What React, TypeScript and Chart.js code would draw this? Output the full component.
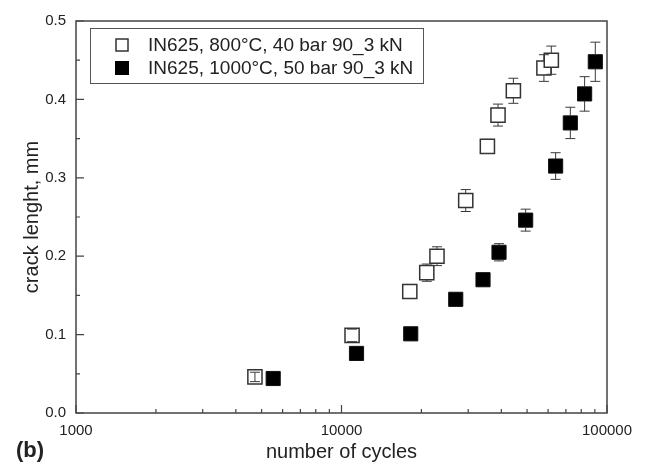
import React, { useEffect, useRef } from "react";
import { Chart, registerables } from "chart.js";
Chart.register(...registerables);

const seriesLabels = ["IN625, 800°C, 40 bar 90_3 kN", "IN625, 1000°C, 50 bar 90_3 kN"];

const openCycles = [4720, 10960, 18080, 20950, 22890, 29370, 35440, 38860, 44400, 57870, 61700];
const openCrack = [0.046, 0.099, 0.155, 0.179, 0.2, 0.271, 0.34, 0.38, 0.411, 0.44, 0.45];
const openErr = [0.006, 0.008, 0.009, 0.011, 0.012, 0.014, 0.009, 0.014, 0.016, 0.017, 0.018];

const filledCycles = [5530, 11390, 18230, 26930, 34120, 39200, 49390, 64050, 72750, 82360, 90360];
const filledCrack = [0.044, 0.076, 0.101, 0.145, 0.17, 0.205, 0.246, 0.315, 0.37, 0.407, 0.448];
const filledErr = [0.003, 0.003, 0.003, 0.003, 0.006, 0.011, 0.014, 0.017, 0.02, 0.022, 0.025];

const xTickValues = [1000, 10000, 100000];
const xMinorMultipliers = [2, 3, 4, 5, 6, 7, 8, 9];
const yTickValues = [0, 0.1, 0.2, 0.3, 0.4, 0.5];
const yMinorValues = [0.05, 0.15, 0.25, 0.35, 0.45];

const xTitle = "number of cycles";
const yTitle = "crack lenght, mm";
const panelLabel = "(b)";

const FONT = "'Liberation Sans', Arial, sans-serif";
const AXIS = "#444";
const TEXT = "#222";
const HALF = 7;

const errors = [openErr, filledErr];

const customPlugin = {
  id: "custom",
  afterDatasetsDraw(chart: any) {
    const ctx = chart.ctx;
    const xs = chart.scales.x;
    const ys = chart.scales.y;
    ctx.save();
    ctx.strokeStyle = "#3a3a3a";
    ctx.lineWidth = 1;
    chart.data.datasets.forEach((ds: any, di: number) => {
      ds.data.forEach((p: any, i: number) => {
        const e = errors[di][i];
        const px = xs.getPixelForValue(p.x);
        const py = ys.getPixelForValue(p.y);
        const yt = ys.getPixelForValue(p.y + e);
        const yb = ys.getPixelForValue(p.y - e);
        ctx.beginPath();
        if (yt < py - HALF) {
          ctx.moveTo(px, py - HALF);
          ctx.lineTo(px, yt);
        }
        if (yb > py + HALF) {
          ctx.moveTo(px, py + HALF);
          ctx.lineTo(px, yb);
        }
        if (di === 0 && yt >= py - HALF + 1) {
          ctx.moveTo(px, yt);
          ctx.lineTo(px, yb);
        }
        if (di === 0 || yt < py - HALF) {
          ctx.moveTo(px - 5, yt);
          ctx.lineTo(px + 5, yt);
        }
        if (di === 0 || yb > py + HALF) {
          ctx.moveTo(px - 5, yb);
          ctx.lineTo(px + 5, yb);
        }
        ctx.stroke();
      });
    });
    ctx.restore();
  },
  afterDraw(chart: any) {
    const ctx = chart.ctx;
    const { left, right, top, bottom } = chart.chartArea;
    const xs = chart.scales.x;
    const ys = chart.scales.y;
    ctx.save();
    ctx.strokeStyle = AXIS;
    ctx.lineWidth = 1.5;
    ctx.strokeRect(left, top, right - left, bottom - top);
    ctx.lineWidth = 1.2;
    ctx.beginPath();
    yTickValues.forEach((v) => {
      const y = ys.getPixelForValue(v);
      ctx.moveTo(left, y);
      ctx.lineTo(left + 8, y);
    });
    yMinorValues.forEach((v) => {
      const y = ys.getPixelForValue(v);
      ctx.moveTo(left, y);
      ctx.lineTo(left + 4, y);
    });
    xTickValues.forEach((v, k) => {
      const x = xs.getPixelForValue(v);
      ctx.moveTo(x, bottom);
      ctx.lineTo(x, bottom - 8);
      if (k < xTickValues.length - 1) {
        xMinorMultipliers.forEach((m) => {
          const xm = xs.getPixelForValue(v * m);
          ctx.moveTo(xm, bottom);
          ctx.lineTo(xm, bottom - 4);
        });
      }
    });
    ctx.stroke();

    // legend
    const lx = 90, ly = 28, lw = 333, lh = 55;
    ctx.fillStyle = "#fff";
    ctx.fillRect(lx, ly, lw, lh);
    ctx.strokeStyle = "#555";
    ctx.lineWidth = 1;
    ctx.strokeRect(lx + 0.5, ly + 0.5, lw, lh);
    const rows = [45, 68];
    rows.forEach((ry, i) => {
      if (i === 0) {
        ctx.fillStyle = "#fff";
        ctx.fillRect(116, ry - 6, 12, 12);
        ctx.strokeStyle = "#333";
        ctx.lineWidth = 1.5;
        ctx.strokeRect(116, ry - 6, 12, 12);
      } else {
        ctx.fillStyle = "#000";
        ctx.fillRect(115, ry - 7, 14, 14);
      }
      ctx.fillStyle = TEXT;
      ctx.font = `19px ${FONT}`;
      ctx.textAlign = "left";
      ctx.textBaseline = "middle";
      ctx.fillText(seriesLabels[i], 148, ry + 1);
    });

    ctx.fillStyle = TEXT;
    ctx.font = `bold 22px ${FONT}`;
    ctx.textAlign = "left";
    ctx.textBaseline = "middle";
    ctx.fillText(panelLabel, 16, 451);
    ctx.restore();
  },
};

export default function App() {
  const ref = useRef<HTMLCanvasElement | null>(null);
  useEffect(() => {
    document.body.style.margin = "0";
    const canvas = ref.current!;
    const chart = new Chart(canvas, {
      type: "scatter",
      data: {
        datasets: [
          {
            label: seriesLabels[0],
            data: openCycles.map((x, i) => ({ x, y: openCrack[i] })),
            pointStyle: "rect",
            pointRadius: 10,
            backgroundColor: "rgba(255,255,255,1)",
            borderColor: "#333",
            borderWidth: 1.5,
          },
          {
            label: seriesLabels[1],
            data: filledCycles.map((x, i) => ({ x, y: filledCrack[i] })),
            pointStyle: "rect",
            pointRadius: 10,
            backgroundColor: "#000",
            borderColor: "#111",
            borderWidth: 1,
          },
        ],
      },
      options: {
        animation: false,
        responsive: false,
        devicePixelRatio: 1,
        layout: { padding: { left: 0, right: 41, top: 21, bottom: 0 } },
        plugins: { legend: { display: false }, tooltip: { enabled: false } },
        scales: {
          x: {
            type: "logarithmic",
            min: 1000,
            max: 100000,
            grid: { display: false, drawTicks: false },
            border: { display: false },
            afterBuildTicks: (s: any) => {
              s.ticks = xTickValues.map((v) => ({ value: v }));
            },
            afterFit: (s: any) => {
              s.height = 52;
            },
            ticks: {
              color: TEXT,
              font: { family: FONT, size: 15 },
              padding: 9,
              maxRotation: 0,
              autoSkip: false,
              callback: (v: any) => String(v),
            },
            title: {
              display: true,
              text: xTitle,
              color: TEXT,
              font: { family: FONT, size: 20 },
              padding: { top: 0, bottom: 1 },
            },
          },
          y: {
            min: 0,
            max: 0.5,
            grid: { display: false, drawTicks: false },
            border: { display: false },
            afterBuildTicks: (s: any) => {
              s.ticks = yTickValues.map((v) => ({ value: v }));
            },
            afterFit: (s: any) => {
              s.width = 76;
            },
            ticks: {
              color: TEXT,
              font: { family: FONT, size: 15 },
              padding: 10,
              callback: (v: any) => Number(v).toFixed(1),
            },
            title: {
              display: true,
              text: yTitle,
              color: TEXT,
              font: { family: FONT, size: 20 },
              padding: { top: 20, bottom: 0 },
            },
          },
        },
      },
      plugins: [customPlugin],
    });
    return () => chart.destroy();
  }, []);
  return (
    <div style={{ width: 648, height: 465, background: "#fff" }}>
      <canvas ref={ref} width={648} height={465} style={{ display: "block" }} />
    </div>
  );
}
